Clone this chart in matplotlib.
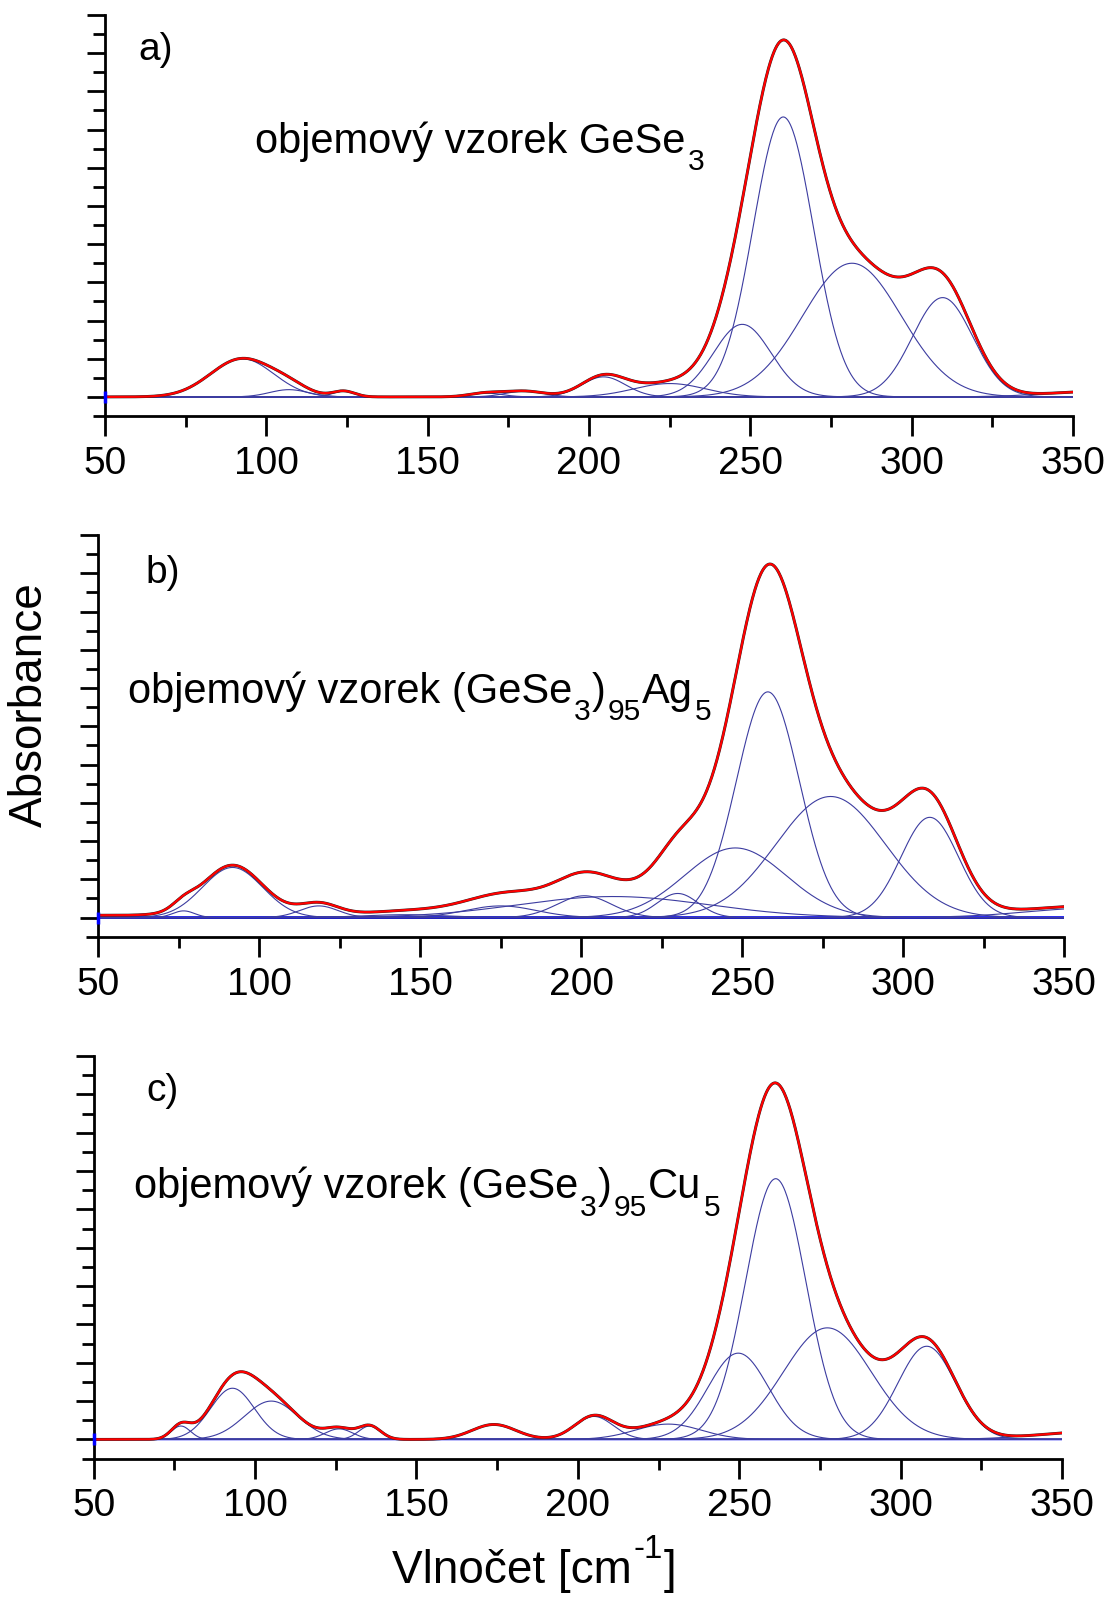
import numpy as np
import matplotlib
matplotlib.use('Agg')
import matplotlib.pyplot as plt
from matplotlib.ticker import MultipleLocator

plt.rcParams['font.family'] = ['Liberation Sans', 'DejaVu Sans']

# fitted band components: centre [cm-1], height [y minor-tick units], FWHM [cm-1]
a_centers = [92.5, 107, 124, 168, 180, 204.5, 225, 247.5, 260.2, 281.5, 309.6, 360]
a_heights = [2.0, 0.38, 0.3, 0.2, 0.3, 1.05, 0.7, 3.8, 14.66, 7.0, 5.2, 0.3]
a_fwhm = [23, 14, 8, 12, 14, 16, 26, 21, 22, 36, 22, 40]
a_offset = 0.0

b_centers = [76.5, 91.7, 118.5, 145, 175, 201, 210, 230, 247.9, 258, 277.5, 308.3, 360]
b_heights = [0.35, 2.62, 0.61, 0.15, 0.61, 1.14, 1.1, 1.26, 3.64, 11.8, 6.33, 5.24, 0.5]
b_fwhm = [8, 22, 14, 30, 26, 20, 70, 15, 37, 23, 40, 21, 50]
b_offset = 0.12

c_centers = [77, 93, 105, 126, 135.5, 174, 205, 228, 249.7, 261.3, 277.3, 308.1, 360]
c_heights = [0.7, 2.67, 2.0, 0.55, 0.7, 0.78, 1.2, 0.8, 4.5, 13.6, 5.82, 4.86, 0.4]
c_fwhm = [7, 16, 19.5, 10, 8, 16, 14, 24, 22, 22, 32, 21, 40]
c_offset = 0.0

panel_labels = ['a)', 'b)', 'c)']
# text pieces: (string, is_subscript)
sample_labels = [
    [('objemový vzorek GeSe', False), ('3', True)],
    [('objemový vzorek (GeSe', False), ('3', True), (')', False), ('95', True),
     ('Ag', False), ('5', True)],
    [('objemový vzorek (GeSe', False), ('3', True), (')', False), ('95', True),
     ('Cu', False), ('5', True)],
]

wavenumber = np.linspace(50, 350, 1501)

W, H = 1104, 1597


def fx(px):
    return px / W


def fy(py):
    return 1 - py / H


def gauss(x, c, h, w):
    s = w / 2.3548
    return h * np.exp(-0.5 * ((x - c) / s) ** 2)


def rich_text(fig, x, y, parts, size, shift):
    # x, y in image pixels (y from top, baseline); shift: +1 sub, -1 super
    renderer = fig.canvas.get_renderer()
    for s, small in parts:
        fs = size * 0.72 if small else size
        dy = shift * 0.42 * size * 100 / 72 if small else 0
        t = fig.text(fx(x), fy(y + dy), s, fontsize=fs, va='baseline', ha='left')
        bb = t.get_window_extent(renderer)
        x = bb.x1 + (1 if small else 2)


def draw_panel(ax, centers, heights, widths, offset, base_lw):
    comps = [gauss(wavenumber, c, h, w) for c, h, w in zip(centers, heights, widths)]
    total = np.sum(comps, axis=0) + offset
    ax.plot(wavenumber, np.zeros_like(wavenumber), color='#0000ee', lw=base_lw, zorder=2)
    ax.plot(wavenumber, np.zeros_like(wavenumber), color='#555555', lw=0.6, zorder=2)
    for comp in comps:
        ax.plot(wavenumber, comp, color='#3c3ca0', lw=0.8, zorder=3)
    ax.plot(wavenumber, total, color='#222222', lw=2.1, zorder=4)
    ax.plot(wavenumber, total, color='#ff0000', lw=1.6, zorder=5)
    ax.plot([50], [0], marker='|', ms=9, mew=2.5, color='#0000ff', clip_on=False, zorder=6)

    ax.set_xlim(50, 350)
    ax.set_ylim(-1, 20)
    for side in ['top', 'right']:
        ax.spines[side].set_visible(False)
    for side in ['left', 'bottom']:
        ax.spines[side].set_linewidth(2.0)
    ax.xaxis.set_major_locator(MultipleLocator(50))
    ax.xaxis.set_minor_locator(MultipleLocator(25))
    ax.yaxis.set_major_locator(MultipleLocator(2))
    ax.yaxis.set_minor_locator(MultipleLocator(1))
    ax.tick_params(axis='x', which='major', direction='out', length=14.5, width=2.0,
                   labelsize=28, pad=7)
    ax.tick_params(axis='x', which='minor', direction='out', length=8, width=2.0)
    ax.tick_params(axis='y', which='major', direction='out', length=13, width=2.0,
                   labelleft=False)
    ax.tick_params(axis='y', which='minor', direction='out', length=8.5, width=2.0)


fig = plt.figure(figsize=(W / 100, H / 100), dpi=100)

# axes boxes in pixels: left, right, top, bottom(x-axis line)
boxes = [(105, 1073, 15, 416), (98.3, 1064, 535, 936.7), (93.7, 1062, 1056, 1458.6)]
data = [(a_centers, a_heights, a_fwhm, a_offset, 1.0),
        (b_centers, b_heights, b_fwhm, b_offset, 2.0),
        (c_centers, c_heights, c_fwhm, c_offset, 1.2)]
label_pos = [(138, 60), (145, 583), (146, 1101)]
text_pos = [(255, 153), (128, 703), (134, 1198)]

for i, (box, d) in enumerate(zip(boxes, data)):
    left, right, top, bottom = box
    ax = fig.add_axes([fx(left), fy(bottom), (right - left) / W, (bottom - top) / H])
    draw_panel(ax, *d)
    fig.text(fx(label_pos[i][0]), fy(label_pos[i][1]), panel_labels[i],
             fontsize=28, va='baseline', ha='left')

fig.canvas.draw()
for i in range(3):
    rich_text(fig, text_pos[i][0], text_pos[i][1], sample_labels[i], 30, 1)

fig.text(fx(30), fy(705), 'Absorbance', rotation=90, fontsize=33,
         ha='center', va='center')
rich_text(fig, 392, 1583, [('Vlnočet [cm', False), ('-1', True), (']', False)], 33, -1.3)

fig.savefig('out.png', dpi=100)
